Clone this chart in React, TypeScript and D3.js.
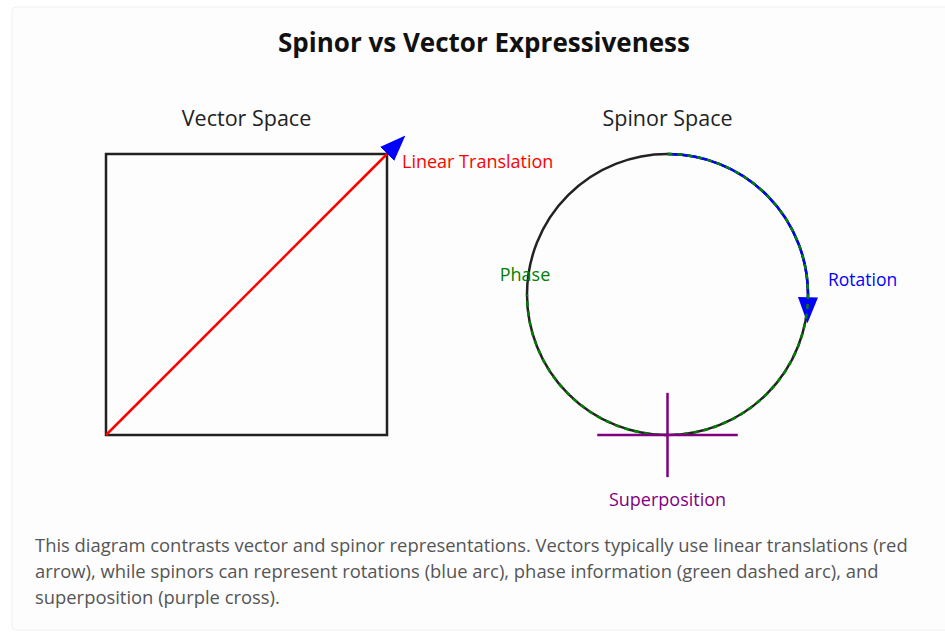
import { useEffect, useRef } from "react";
import * as d3 from "d3";

const width = 945;
const height = 634;

const title = "Spinor vs Vector Expressiveness";
const panelTitles = ["Vector Space", "Spinor Space"];

// vector panel: unit square and translation arrow (unit coords)
const squareCorners: [number, number][] = [
  [0, 0],
  [1, 0],
  [1, 1],
  [0, 1],
];
const translation: [number, number][] = [
  [0, 0],
  [1, 1],
];

// spinor panel: angles in radians (d3.path convention)
const rotationArc = [-Math.PI / 2, 0.02];
const phaseArc = [-Math.PI / 2, Math.PI];
const crossHalf = [0.5, 0.3];

const labels = {
  translation: "Linear Translation",
  rotation: "Rotation",
  phase: "Phase",
  superposition: "Superposition",
};

const descriptionLines = [
  "This diagram contrasts vector and spinor representations. Vectors typically use linear translations (red",
  "arrow), while spinors can represent rotations (blue arc), phase information (green dashed arc), and",
  "superposition (purple cross).",
];

const font = "'Open Sans', 'Noto Sans', sans-serif";

const App = () => {
  const ref = useRef<SVGSVGElement>(null);

  useEffect(() => {
    if (!ref.current) return;
    const svg = d3.select(ref.current);
    svg.selectAll("*").remove();

    // card
    svg
      .append("rect")
      .attr("x", 12)
      .attr("y", 7)
      .attr("width", 1000)
      .attr("height", 623)
      .attr("rx", 4)
      .attr("fill", "#fdfdfd")
      .attr("stroke", "#f0f0f0");

    const defs = svg.append("defs");
    defs
      .append("marker")
      .attr("id", "arrowhead")
      .attr("viewBox", "0 -10 26 20")
      .attr("refX", 0)
      .attr("refY", 0)
      .attr("markerUnits", "userSpaceOnUse")
      .attr("markerWidth", 26)
      .attr("markerHeight", 20)
      .attr("orient", "auto")
      .append("path")
      .attr("d", "M0,-10L26,0L0,10Z")
      .attr("fill", "blue");

    svg
      .append("text")
      .attr("x", 484)
      .attr("y", 52)
      .attr("text-anchor", "middle")
      .attr("font-family", font)
      .attr("font-weight", "bold")
      .attr("font-size", 26)
      .attr("fill", "#111")
      .text(title);

    // vector space
    const vx = d3.scaleLinear().domain([0, 1]).range([106, 387]);
    const vy = d3.scaleLinear().domain([0, 1]).range([435, 154]);

    svg
      .append("text")
      .attr("x", (vx(0) + vx(1)) / 2)
      .attr("y", 126)
      .attr("text-anchor", "middle")
      .attr("font-family", font)
      .attr("font-size", 21.5)
      .attr("fill", "#222")
      .text(panelTitles[0]);

    svg
      .append("path")
      .attr(
        "d",
        d3.line<[number, number]>()
          .x((d) => vx(d[0]))
          .y((d) => vy(d[1]))
          .curve(d3.curveLinearClosed)(squareCorners),
      )
      .attr("fill", "none")
      .attr("stroke", "#222")
      .attr("stroke-width", 2.5);

    svg
      .append("path")
      .attr(
        "d",
        d3.line<[number, number]>()
          .x((d) => vx(d[0]))
          .y((d) => vy(d[1]))(translation),
      )
      .attr("stroke", "red")
      .attr("stroke-width", 2.5)
      .attr("fill", "none")
      .attr("marker-end", "url(#arrowhead)");

    svg
      .append("text")
      .attr("x", vx(1) + 15)
      .attr("y", vy(1) + 14)
      .attr("font-family", font)
      .attr("font-size", 18)
      .attr("fill", "red")
      .text(labels.translation);

    // spinor space
    const sx = d3.scaleLinear().domain([-1, 1]).range([527, 808]);
    const sy = d3.scaleLinear().domain([-1, 1]).range([435, 154]);
    const cx = sx(0);
    const cy = sy(0);
    const r = sx(1) - sx(0);

    svg
      .append("text")
      .attr("x", cx)
      .attr("y", 126)
      .attr("text-anchor", "middle")
      .attr("font-family", font)
      .attr("font-size", 21.5)
      .attr("fill", "#222")
      .text(panelTitles[1]);

    svg
      .append("circle")
      .attr("cx", cx)
      .attr("cy", cy)
      .attr("r", r)
      .attr("fill", "none")
      .attr("stroke", "#222")
      .attr("stroke-width", 2.5);

    const rot = d3.path();
    rot.arc(cx, cy, r, rotationArc[0], rotationArc[1]);
    svg
      .append("path")
      .attr("d", rot.toString())
      .attr("fill", "none")
      .attr("stroke", "blue")
      .attr("stroke-width", 2.5)
      .attr("marker-end", "url(#arrowhead)");

    const ph = d3.path();
    ph.arc(cx, cy, r, phaseArc[0], phaseArc[1]);
    svg
      .append("path")
      .attr("d", ph.toString())
      .attr("fill", "none")
      .attr("stroke", "green")
      .attr("stroke-width", 2.5)
      .attr("stroke-dasharray", "5,5");

    svg
      .append("text")
      .attr("x", sx(1) + 20)
      .attr("y", cy - 9)
      .attr("font-family", font)
      .attr("font-size", 17.5)
      .attr("fill", "blue")
      .text(labels.rotation);

    svg
      .append("text")
      .attr("x", sx(-1) - 2)
      .attr("y", cy - 14)
      .attr("text-anchor", "middle")
      .attr("font-family", font)
      .attr("font-size", 18)
      .attr("fill", "green")
      .text(labels.phase);

    const g = svg.append("g").attr("stroke", "purple").attr("stroke-width", 2.5);
    g.append("line")
      .attr("x1", sx(-crossHalf[0]))
      .attr("x2", sx(crossHalf[0]))
      .attr("y1", sy(-1))
      .attr("y2", sy(-1));
    g.append("line")
      .attr("x1", sx(0))
      .attr("x2", sx(0))
      .attr("y1", sy(-1 + crossHalf[1]))
      .attr("y2", sy(-1 - crossHalf[1]));

    svg
      .append("text")
      .attr("x", cx)
      .attr("y", 506)
      .attr("text-anchor", "middle")
      .attr("font-family", font)
      .attr("font-size", 18)
      .attr("fill", "purple")
      .text(labels.superposition);

    svg
      .append("text")
      .attr("font-family", font)
      .attr("font-size", 18.4)
      .attr("fill", "#555")
      .selectAll("tspan")
      .data(descriptionLines)
      .join("tspan")
      .attr("x", 35)
      .attr("y", (_d, i) => 552 + i * 26)
      .text((d) => d);
  }, []);

  return (
    <svg
      ref={ref}
      width={width}
      height={height}
      style={{ position: "absolute", left: 0, top: 0, background: "#fff" }}
    />
  );
};

export default App;
